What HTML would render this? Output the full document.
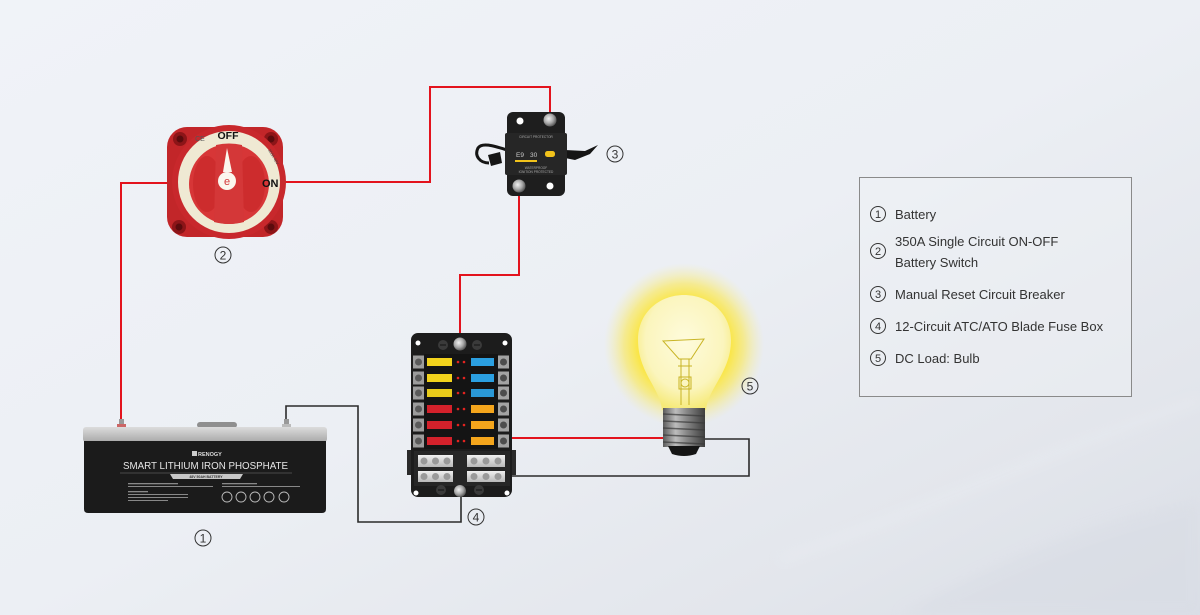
<!DOCTYPE html>
<html><head><meta charset="utf-8"><style>
html,body{margin:0;padding:0;width:1200px;height:615px;overflow:hidden;background:#eff2f7;}
svg{display:block;}
text{font-family:"Liberation Sans","DejaVu Sans",sans-serif;}
</style></head><body>
<svg width="1200" height="615" viewBox="0 0 1200 615" xmlns="http://www.w3.org/2000/svg">
<defs>
<linearGradient id="bg" x1="0" y1="0" x2="1" y2="1">
<stop offset="0" stop-color="#f0f3f8"/><stop offset="0.5" stop-color="#eceff4"/><stop offset="0.8" stop-color="#e3e6ec"/><stop offset="1" stop-color="#dadee6"/>
</linearGradient>
<filter id="blur8"><feGaussianBlur stdDeviation="6"/></filter>
<radialGradient id="glow" cx="0.5" cy="0.5" r="0.5">
<stop offset="0" stop-color="#fff38a"/><stop offset="0.55" stop-color="#fbe53a"/><stop offset="0.75" stop-color="#fbe84f" stop-opacity="0.6"/><stop offset="1" stop-color="#f8ef9a" stop-opacity="0"/>
</radialGradient>
<radialGradient id="glass" cx="0.5" cy="0.4" r="0.6">
<stop offset="0" stop-color="#fefbdc"/><stop offset="0.7" stop-color="#fbf5bd"/><stop offset="1" stop-color="#f6ea78"/>
</radialGradient>
<linearGradient id="metal" x1="0" y1="0" x2="1" y2="0">
<stop offset="0" stop-color="#5a5a5a"/><stop offset="0.3" stop-color="#bdbdbd"/><stop offset="0.55" stop-color="#8a8a8a"/><stop offset="1" stop-color="#3e3e3e"/>
</linearGradient>
<linearGradient id="battop" x1="0" y1="0" x2="0" y2="1">
<stop offset="0" stop-color="#dcdcdc"/><stop offset="1" stop-color="#a9a9a9"/>
</linearGradient>
<radialGradient id="nut" cx="0.4" cy="0.4" r="0.6">
<stop offset="0" stop-color="#f2f2f2"/><stop offset="0.6" stop-color="#a8a8a8"/><stop offset="1" stop-color="#5c5c5c"/>
</radialGradient>
<linearGradient id="bus" x1="0" y1="0" x2="0" y2="1">
<stop offset="0" stop-color="#f0f0f0"/><stop offset="1" stop-color="#b9b9b9"/>
</linearGradient>
</defs>

<!-- background -->
<rect width="1200" height="615" fill="url(#bg)"/>
<path d="M780,560 C950,500 1080,440 1200,400" stroke="#f3f5f8" stroke-width="3" fill="none" filter="url(#blur8)" opacity="0.6"/>
<path d="M900,615 C1000,560 1100,520 1200,500 L1200,615 Z" fill="#d8dce4" opacity="0.5" filter="url(#blur8)"/>

<!-- wires -->
<g fill="none" stroke-linejoin="miter">
<path d="M121,421 V183 H172" stroke="#e3131d" stroke-width="2"/>
<path d="M282,182 H430 V87 H550 V114" stroke="#e3131d" stroke-width="2"/>
<path d="M519,194 V275 H460 V334" stroke="#e3131d" stroke-width="2"/>
<path d="M506,438 H665" stroke="#e3131d" stroke-width="2"/>
<path d="M286,421 V406 H358 V522 H461 V497" stroke="#2b2b2b" stroke-width="1.6"/>
<path d="M703,439 H749 V476 H505" stroke="#2b2b2b" stroke-width="1.6"/>
</g>

<!-- battery switch -->
<g>
<rect x="167" y="127" width="116" height="110" rx="20" fill="#c22629"/>
<circle cx="180" cy="139" r="7" fill="#8c1518"/><circle cx="180" cy="139" r="3.5" fill="#5b0b0d"/>
<circle cx="271" cy="139" r="7" fill="#8c1518"/><circle cx="271" cy="139" r="3.5" fill="#5b0b0d"/>
<circle cx="179" cy="227" r="7" fill="#8c1518"/><circle cx="179" cy="227" r="3.5" fill="#5b0b0d"/>
<circle cx="271" cy="227" r="7" fill="#8c1518"/><circle cx="271" cy="227" r="3.5" fill="#5b0b0d"/>
<circle cx="229" cy="182" r="57" fill="#c8282c"/>
<circle cx="229" cy="182" r="51" fill="#efe9d3"/>
<circle cx="229" cy="184" r="40" fill="#d73637"/>
<ellipse cx="207" cy="184" rx="14" ry="28" fill="#c42427" opacity="0.55"/>
<ellipse cx="251" cy="184" rx="14" ry="28" fill="#c42427" opacity="0.55"/>
<path d="M216,145 Q229,142 242,145 L244,222 Q229,226 214,222 Z" fill="#d43738"/>
<path d="M227,148 L232,172 L223,172 Z" fill="#fbf7ee"/>
<circle cx="227" cy="181" r="9" fill="#fbf7ee"/>
<text x="227" y="185" font-size="11" fill="#d43738" text-anchor="middle">e</text>
<text x="228" y="139" font-size="10.5" font-weight="bold" fill="#111" text-anchor="middle">OFF</text>
<text x="262" y="187" font-size="11" font-weight="bold" fill="#111">ON</text>
<text x="200" y="141" font-size="7" fill="#555" text-anchor="middle">CE</text>
<text x="268" y="150" font-size="4" fill="#444" transform="rotate(60 268 150)">350A 48V</text>
</g>
<g><circle cx="223" cy="255" r="8" fill="none" stroke="#333" stroke-width="1"/><text x="223" y="259.5" font-size="12" fill="#333" text-anchor="middle">2</text></g>

<!-- circuit breaker -->
<g>
<path d="M507,150 C494,146 482,142 478,148 C474,156 480,163 489,163" fill="none" stroke="#151515" stroke-width="3"/>
<path d="M488,155 L500,152 L502,163 L491,166 Z" fill="#151515"/>
<path d="M565,150 L585,151 L598,145 L590,154 L575,160 L565,158 Z" fill="#151515"/>
<rect x="507" y="112" width="58" height="84" rx="6" fill="#1e1e1e"/>
<rect x="505" y="133" width="62" height="42" rx="2" fill="#262626"/>
<circle cx="520" cy="121" r="3.5" fill="#fff"/>
<circle cx="550" cy="120" r="6.5" fill="url(#nut)"/>
<circle cx="519" cy="186" r="6.5" fill="url(#nut)"/>
<circle cx="550" cy="186" r="3.5" fill="#fff"/>
<text x="536" y="138" font-size="3.2" fill="#aaa" text-anchor="middle">CIRCUIT PROTECTOR</text>
<text x="516" y="157" font-size="6.5" fill="#ccc">E9</text>
<text x="530" y="157" font-size="6.5" fill="#ccc">30</text>
<rect x="545" y="151" width="10" height="6" rx="2.5" fill="#f1c21b"/>
<rect x="515" y="160" width="22" height="2" fill="#f1c21b"/>
<text x="536" y="169" font-size="3.2" fill="#aaa" text-anchor="middle">WATERPROOF</text>
<text x="536" y="173" font-size="3.2" fill="#aaa" text-anchor="middle">IGNITION PROTECTED</text>
</g>
<g><circle cx="615" cy="154" r="8" fill="none" stroke="#333" stroke-width="1"/><text x="615" y="158.5" font-size="12" fill="#333" text-anchor="middle">3</text></g>

<!-- fuse box -->
<g>
<rect x="407" y="450" width="6" height="25" fill="#2a2a2a"/>
<rect x="510" y="450" width="6" height="25" fill="#2a2a2a"/>
<rect x="411" y="333" width="101" height="164" rx="7" fill="#1c1c1c"/>
<rect x="424" y="354" width="74" height="95" fill="#141414"/>
<circle cx="418" cy="343" r="2.5" fill="#fff"/><circle cx="505" cy="343" r="2.5" fill="#fff"/>
<circle cx="443" cy="345" r="5" fill="#3a3a3a"/><circle cx="477" cy="345" r="5" fill="#3a3a3a"/>
<line x1="440" y1="345" x2="446" y2="345" stroke="#111"/><line x1="474" y1="345" x2="480" y2="345" stroke="#111"/>
<circle cx="460" cy="344" r="6.5" fill="url(#nut)"/>
<g>
<g transform="translate(0,362)"><rect x="413" y="-6.5" width="11" height="13" fill="#9c9c9c"/><circle cx="418.5" cy="0" r="3.5" fill="#5a5a5a"/><rect x="427" y="-4" width="25" height="8" fill="#f2d21c"/><rect x="498" y="-6.5" width="11" height="13" fill="#a3a3a3"/><circle cx="503.5" cy="0" r="3.5" fill="#4d4d4d"/><rect x="471" y="-4" width="23" height="8" fill="#2b9fe0"/><circle cx="458" cy="0" r="1.3" fill="#e3231f"/><circle cx="464" cy="0" r="1.3" fill="#e3231f"/></g>
<g transform="translate(0,378)"><rect x="413" y="-6.5" width="11" height="13" fill="#9c9c9c"/><circle cx="418.5" cy="0" r="3.5" fill="#5a5a5a"/><rect x="427" y="-4" width="25" height="8" fill="#f2d21c"/><rect x="498" y="-6.5" width="11" height="13" fill="#a3a3a3"/><circle cx="503.5" cy="0" r="3.5" fill="#4d4d4d"/><rect x="471" y="-4" width="23" height="8" fill="#2b9fe0"/><circle cx="458" cy="0" r="1.3" fill="#e3231f"/><circle cx="464" cy="0" r="1.3" fill="#e3231f"/></g>
<g transform="translate(0,393)"><rect x="413" y="-6.5" width="11" height="13" fill="#9c9c9c"/><circle cx="418.5" cy="0" r="3.5" fill="#5a5a5a"/><rect x="427" y="-4" width="25" height="8" fill="#e8cb1a"/><rect x="498" y="-6.5" width="11" height="13" fill="#a3a3a3"/><circle cx="503.5" cy="0" r="3.5" fill="#4d4d4d"/><rect x="471" y="-4" width="23" height="8" fill="#2a98d6"/><circle cx="458" cy="0" r="1.3" fill="#e3231f"/><circle cx="464" cy="0" r="1.3" fill="#e3231f"/></g>
<g transform="translate(0,409)"><rect x="413" y="-6.5" width="11" height="13" fill="#9c9c9c"/><circle cx="418.5" cy="0" r="3.5" fill="#5a5a5a"/><rect x="427" y="-4" width="25" height="8" fill="#d3212b"/><rect x="498" y="-6.5" width="11" height="13" fill="#a3a3a3"/><circle cx="503.5" cy="0" r="3.5" fill="#4d4d4d"/><rect x="471" y="-4" width="23" height="8" fill="#f4a51c"/><circle cx="458" cy="0" r="1.3" fill="#e3231f"/><circle cx="464" cy="0" r="1.3" fill="#e3231f"/></g>
<g transform="translate(0,425)"><rect x="413" y="-6.5" width="11" height="13" fill="#9c9c9c"/><circle cx="418.5" cy="0" r="3.5" fill="#5a5a5a"/><rect x="427" y="-4" width="25" height="8" fill="#d3212b"/><rect x="498" y="-6.5" width="11" height="13" fill="#a3a3a3"/><circle cx="503.5" cy="0" r="3.5" fill="#4d4d4d"/><rect x="471" y="-4" width="23" height="8" fill="#f4a51c"/><circle cx="458" cy="0" r="1.3" fill="#e3231f"/><circle cx="464" cy="0" r="1.3" fill="#e3231f"/></g>
<g transform="translate(0,441)"><rect x="413" y="-6.5" width="11" height="13" fill="#9c9c9c"/><circle cx="418.5" cy="0" r="3.5" fill="#5a5a5a"/><rect x="427" y="-4" width="25" height="8" fill="#d3212b"/><rect x="498" y="-6.5" width="11" height="13" fill="#a3a3a3"/><circle cx="503.5" cy="0" r="3.5" fill="#4d4d4d"/><rect x="471" y="-4" width="23" height="8" fill="#f4a51c"/><circle cx="458" cy="0" r="1.3" fill="#e3231f"/><circle cx="464" cy="0" r="1.3" fill="#e3231f"/></g>
</g>
<rect x="414" y="451" width="96" height="35" fill="#262626"/>
<rect x="418" y="455" width="35" height="12" fill="url(#bus)"/>
<circle cx="424" cy="461" r="3.5" fill="#9a9a9a"/><circle cx="435.5" cy="461" r="3.5" fill="#9a9a9a"/><circle cx="447" cy="461" r="3.5" fill="#9a9a9a"/>
<rect x="418" y="471" width="35" height="11" fill="url(#bus)"/>
<circle cx="424" cy="476.5" r="3.5" fill="#9a9a9a"/><circle cx="435.5" cy="476.5" r="3.5" fill="#9a9a9a"/><circle cx="447" cy="476.5" r="3.5" fill="#9a9a9a"/>
<rect x="467" y="455" width="38" height="12" fill="url(#bus)"/>
<circle cx="474" cy="461" r="3.5" fill="#9a9a9a"/><circle cx="486" cy="461" r="3.5" fill="#9a9a9a"/><circle cx="498" cy="461" r="3.5" fill="#9a9a9a"/>
<rect x="467" y="471" width="38" height="11" fill="url(#bus)"/>
<circle cx="474" cy="476.5" r="3.5" fill="#9a9a9a"/><circle cx="486" cy="476.5" r="3.5" fill="#9a9a9a"/><circle cx="498" cy="476.5" r="3.5" fill="#9a9a9a"/>
<circle cx="441" cy="490" r="5" fill="#3a3a3a"/><circle cx="479" cy="490" r="5" fill="#3a3a3a"/>
<line x1="438" y1="490" x2="444" y2="490" stroke="#111"/><line x1="476" y1="490" x2="482" y2="490" stroke="#111"/>
<circle cx="416" cy="493" r="2.5" fill="#fff"/><circle cx="507" cy="493" r="2.5" fill="#fff"/>
<circle cx="460" cy="491" r="6" fill="url(#nut)"/>
</g>
<g><circle cx="476" cy="517" r="8" fill="none" stroke="#333" stroke-width="1"/><text x="476" y="521.5" font-size="12" fill="#333" text-anchor="middle">4</text></g>

<!-- battery -->
<g>
<rect x="119" y="419" width="5" height="8" fill="#999"/><rect x="117" y="424" width="9" height="3" fill="#c66"/>
<rect x="284" y="419" width="5" height="8" fill="#999"/><rect x="282" y="424" width="9" height="3" fill="#bbb"/>
<rect x="197" y="422" width="40" height="6" rx="3" fill="#8f8f8f"/>
<rect x="83" y="427" width="244" height="15" rx="3" fill="url(#battop)"/>
<path d="M84,441 H326 V509 Q326,513 322,513 H88 Q84,513 84,509 Z" fill="#1b1b1b"/>
<rect x="192" y="451" width="5" height="5" fill="#ccc"/>
<text x="198" y="456" font-size="5.5" fill="#ddd" font-weight="bold">RENOGY</text>
<text x="123" y="469" font-size="10" fill="#e6e6e6" textLength="165" lengthAdjust="spacingAndGlyphs">SMART LITHIUM IRON PHOSPHATE</text>
<line x1="120" y1="473" x2="292" y2="473" stroke="#777" stroke-width="0.6"/>
<path d="M170,474 H243 L240,479 H173 Z" fill="#c8c8c8"/>
<text x="206" y="478.2" font-size="3.5" fill="#333" text-anchor="middle" font-weight="bold">48V 50AH BATTERY</text>
<g fill="#888"><rect x="128" y="483" width="50" height="1.3"/><rect x="128" y="486" width="85" height="1"/><rect x="128" y="491" width="20" height="1.3"/><rect x="128" y="494" width="60" height="1"/><rect x="128" y="497" width="60" height="1"/><rect x="128" y="500" width="40" height="1"/>
<rect x="222" y="483" width="35" height="1.3"/><rect x="222" y="486" width="78" height="1"/></g>
<g fill="none" stroke="#bbb" stroke-width="0.9">
<circle cx="227" cy="497" r="5"/><circle cx="241" cy="497" r="5"/><circle cx="255" cy="497" r="5"/><circle cx="269" cy="497" r="5"/><circle cx="284" cy="497" r="5"/></g>
</g>
<g><circle cx="203" cy="538" r="8" fill="none" stroke="#333" stroke-width="1"/><text x="203" y="542.5" font-size="12" fill="#333" text-anchor="middle">1</text></g>

<!-- bulb -->
<g>
<ellipse cx="684" cy="345" rx="80" ry="82" fill="url(#glow)"/>
<path d="M638,340 C638,312 660,295 684,295 C708,295 731,312 731,340 C731,372 708,388 706,410 L662,410 C660,388 638,372 638,340 Z" fill="url(#glass)"/>
<g fill="none" stroke="#c8b424" stroke-width="1">
<path d="M663,341 L704,339 L691,359 L679,359 Z"/>
<path d="M681,359 V405 M689,359 V405"/>
<line x1="678" y1="366" x2="692" y2="366"/>
<circle cx="685" cy="383" r="4"/>
<rect x="679" y="377" width="12" height="12"/>
</g>
<rect x="663" y="408" width="42" height="39" fill="url(#metal)"/>
<g stroke="#3a3a3a" stroke-width="1.4" opacity="0.7">
<line x1="663" y1="414" x2="705" y2="416"/><line x1="663" y1="421" x2="705" y2="423"/><line x1="663" y1="428" x2="705" y2="430"/><line x1="663" y1="435" x2="705" y2="437"/><line x1="663" y1="442" x2="705" y2="444"/>
</g>
<path d="M668,446 H700 L696,454 Q684,458 672,454 Z" fill="#151515"/>
</g>
<g><circle cx="750" cy="386" r="8" fill="none" stroke="#333" stroke-width="1"/><text x="750" y="390.5" font-size="12" fill="#333" text-anchor="middle">5</text></g>

<!-- legend -->
<g>
<rect x="859.5" y="177.5" width="272" height="219" fill="#f2f3f6" fill-opacity="0.35" stroke="#8a8a8a" stroke-width="1"/>
<g fill="none" stroke="#333" stroke-width="1">
<circle cx="878" cy="214" r="7.5"/><circle cx="878" cy="251" r="7.5"/><circle cx="878" cy="294" r="7.5"/><circle cx="878" cy="326" r="7.5"/><circle cx="878" cy="358" r="7.5"/>
</g>
<g font-size="11" fill="#333" text-anchor="middle">
<text x="878" y="218">1</text><text x="878" y="255">2</text><text x="878" y="298">3</text><text x="878" y="330">4</text><text x="878" y="362">5</text>
</g>
<g font-size="13" fill="#333">
<text x="895" y="219">Battery</text>
<text x="895" y="246">350A Single Circuit ON-OFF</text>
<text x="895" y="267">Battery Switch</text>
<text x="895" y="299">Manual Reset Circuit Breaker</text>
<text x="895" y="331">12-Circuit ATC/ATO Blade Fuse Box</text>
<text x="895" y="363">DC Load: Bulb</text>
</g>
</g>
</svg>
</body></html>
